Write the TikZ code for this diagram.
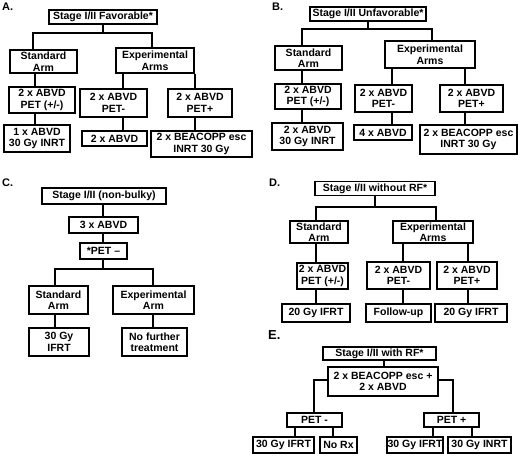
\documentclass[tikz,border=0pt]{standalone}
\usepackage{fontspec}
\setmainfont{Liberation Sans}
\newcommand\vlink[3]{\draw[conn] (#1.south -| #3) -- (#2.north -| #3);}
\begin{document}
\begin{tikzpicture}[x=1pt,y=-1pt,
  box/.style={draw,line width=1.3pt,align=center,inner sep=0pt,font=\fontsize{10.5}{11.5}\selectfont\bfseries},
  sz/.style 2 args={minimum width=#1pt,minimum height=#2pt},
  conn/.style={line width=1.3pt},
  lbl/.style={font=\fontsize{11}{12}\selectfont\bfseries,anchor=west,inner sep=0pt}]
\useasboundingbox[fill=white] (0,0) rectangle (520,456);

% ---------- Panel A ----------
\node[lbl] (lA) at (2,7) {A.};
\node[box,sz={108}{14}] (a1) at (103,17) {Stage I/II Favorable*};
\node[box,sz={67}{23}] (a2) at (43.5,61.5) {Standard\\Arm};
\node[box,sz={78}{25}] (a3) at (155,60.5) {Experimental\\Arms};
\node[box,sz={66}{26}] (a4) at (42,100) {2 x ABVD\\PET (+/-)};
\node[box,sz={66}{27}] (a5) at (37,138.5) {1 x ABVD\\30 Gy INRT};
\node[box,sz={67}{28}] (a6) at (113.5,103) {2 x ABVD\\PET-};
\node[box,sz={65}{15}] (a7) at (114.5,138.5) {2 x ABVD};
\node[box,sz={64}{28}] (a8) at (200,103) {2 x ABVD\\PET+};
\node[box,sz={101}{26}] (a9) at (201.5,144) {2 x BEACOPP esc\\INRT 30 Gy};
\coordinate (aL) at (33,33); \coordinate (aR) at (152,33);
\coordinate (vA1) at (35,0); \coordinate (vA2) at (123,0); \coordinate (vA3) at (195,0);
\draw[conn] (a1.south) -- (a1.south |- aL);
\draw[conn] (a2.north -| aL) -- (aL) -- (aR) -- (a3.north -| aR);
\vlink{a2}{a4}{vA1} \vlink{a4}{a5}{vA1}
\vlink{a3}{a6}{vA2} \vlink{a6}{a7}{vA2}
\vlink{a3}{a8}{vA3} \vlink{a8}{a9}{vA3}

% ---------- Panel B ----------
\node[lbl] (lB) at (272,7) {B.};
\node[box,sz={116}{14}] (b1) at (368,14) {Stage I/II Unfavorable*};
\node[box,sz={67}{24}] (b2) at (308.5,58) {Standard\\Arm};
\node[box,sz={90}{27}] (b3) at (430,54.5) {Experimental\\Arms};
\node[box,sz={66}{25}] (b4) at (308,96.5) {2 x ABVD\\PET (+/-)};
\node[box,sz={71}{27}] (b5) at (307.5,136.5) {2 x ABVD\\30 Gy INRT};
\node[box,sz={57}{27}] (b6) at (383.5,98.5) {2 x ABVD\\PET-};
\node[box,sz={58}{15}] (b7) at (383,132.5) {4 x ABVD};
\node[box,sz={63}{27}] (b8) at (471.5,98.5) {2 x ABVD\\PET+};
\node[box,sz={97}{29}] (b9) at (468.5,139.5) {2 x BEACOPP esc\\INRT 30 Gy};
\coordinate (bL) at (302,29); \coordinate (bR) at (432,29);
\coordinate (vB1) at (302,0); \coordinate (vB2) at (392,0); \coordinate (vB3) at (465,0);
\draw[conn] (b1.south) -- (b1.south |- bL);
\draw[conn] (b2.north -| bL) -- (bL) -- (bR) -- (b3.north -| bR);
\vlink{b2}{b4}{vB1} \vlink{b4}{b5}{vB1}
\vlink{b3}{b6}{vB2} \vlink{b6}{b7}{vB2}
\vlink{b3}{b8}{vB3} \vlink{b8}{b9}{vB3}

% ---------- Panel C ----------
\node[lbl] (lC) at (2,183) {C.};
\node[box,sz={124}{16}] (c1) at (104,196) {Stage I/II (non-bulky)};
\node[box,sz={69}{16}] (c2) at (103.5,225) {3 x ABVD};
\node[box,sz={47}{16}] (c3) at (103.5,251) {*PET --};
\node[box,sz={59}{28}] (c4) at (58.5,300) {Standard\\Arm};
\node[box,sz={81}{28}] (c5) at (153.5,300) {Experimental\\Arm};
\node[box,sz={60}{28}] (c6) at (59,342) {30 Gy\\IFRT};
\node[box,sz={65}{28}] (c7) at (154.5,342) {No further\\treatment};
\coordinate (cL) at (55,269); \coordinate (cR) at (153,269);
\coordinate (vC0) at (103,0); \coordinate (vC1) at (55,0); \coordinate (vC2) at (153,0);
\vlink{c1}{c2}{vC0} \vlink{c2}{c3}{vC0}
\draw[conn] (c3.south -| vC0) -- (vC0 |- cL);
\draw[conn] (c4.north -| cL) -- (cL) -- (cR) -- (c5.north -| cR);
\vlink{c4}{c6}{vC1} \vlink{c5}{c7}{vC2}

% ---------- Panel D ----------
\node[lbl] (lD) at (269,183) {D.};
\node[box,sz={120}{14}] (d1) at (375,188.5) {Stage I/II without RF*};
\node[box,sz={58}{22}] (d2) at (319,232) {Standard\\Arm};
\node[box,sz={80}{22}] (d3) at (433,232) {Experimental\\Arms};
\node[box,sz={51}{26}] (d4) at (322.5,276) {2 x ABVD\\PET (+/-)};
\node[box,sz={63}{27}] (d5) at (398.5,275.5) {2 x ABVD\\PET-};
\node[box,sz={60}{27}] (d6) at (467,275.5) {2 x ABVD\\PET+};
\node[box,sz={68}{18}] (d7) at (316,313) {20 Gy IFRT};
\node[box,sz={65}{18}] (d8) at (398.5,313) {Follow-up};
\node[box,sz={72}{18}] (d9) at (471,313) {20 Gy IFRT};
\coordinate (dL) at (316,207); \coordinate (dR) at (436,207);
\coordinate (vD1) at (316,0); \coordinate (vD2) at (403,0); \coordinate (vD3) at (468,0);
\draw[conn] (d1.south) -- (d1.south |- dL);
\draw[conn] (d2.north -| dL) -- (dL) -- (dR) -- (d3.north -| dR);
\vlink{d2}{d4}{vD1} \vlink{d4}{d7}{vD1}
\vlink{d3}{d5}{vD2} \vlink{d5}{d8}{vD2}
\vlink{d3}{d6}{vD3} \vlink{d6}{d9}{vD3}

% ---------- Panel E ----------
\node[lbl,font=\fontsize{13}{14}\selectfont\bfseries] (lE) at (268,335) {E.};
\node[box,sz={113}{13}] (e1) at (379.5,353.5) {Stage I/II with RF*};
\node[box,sz={110}{29}] (e2) at (383,381.5) {2 x BEACOPP esc +\\2 x ABVD};
\node[box,sz={55}{14}] (e3) at (314.5,420) {PET -};
\node[box,sz={55}{14}] (e4) at (451.5,420) {PET +};
\node[box,sz={61}{16}] (e5) at (283.5,445) {30 Gy IFRT};
\node[box,sz={37}{16}] (e6) at (338.5,445) {No Rx};
\node[box,sz={56}{16}] (e7) at (415,445) {30 Gy IFRT};
\node[box,sz={63}{16}] (e8) at (479.5,445) {30 Gy INRT};
\coordinate (eL) at (314,380); \coordinate (eR) at (453,380);
\coordinate (vE0) at (384,0); \coordinate (vE1) at (295,0); \coordinate (vE2) at (333,0);
\coordinate (vE3) at (433,0); \coordinate (vE4) at (472,0);
\vlink{e1}{e2}{vE0}
\draw[conn] (e2.west |- eL) -- (eL) -- (e3.north -| eL);
\draw[conn] (e2.east |- eR) -- (eR) -- (e4.north -| eR);
\vlink{e3}{e5}{vE1} \vlink{e3}{e6}{vE2}
\vlink{e4}{e7}{vE3} \vlink{e4}{e8}{vE4}
\end{tikzpicture}
\end{document}
